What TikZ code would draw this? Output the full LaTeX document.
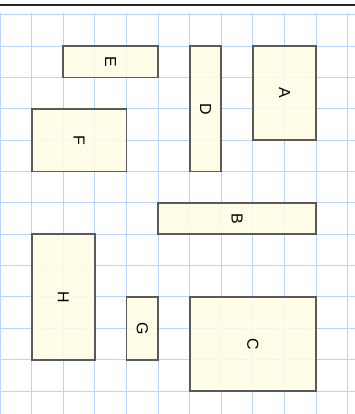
\documentclass[tikz,border=0pt]{standalone}
\usepackage{fontspec}
\setmainfont{Liberation Sans}
\definecolor{gridblue}{RGB}{184,212,248}
\definecolor{cream}{RGB}{255,253,228}
\definecolor{boxline}{RGB}{90,90,90}

\begin{document}
\begin{tikzpicture}[
  x=31.62bp, y=-31.36bp,
  font=\fontsize{16}{19}\selectfont,
  gridline/.style={draw=gridblue, line width=1bp},
  box/.style 2 args={draw=boxline, line width=1.8bp, fill=cream,
    fill opacity=0.88, text opacity=1, inner sep=0pt,
    minimum width=#1*31.62bp, minimum height=#2*31.36bp}
]
% page frame: the rule at the top sits just above the grid
\useasboundingbox (0,-0.469) rectangle (11.227,12.733);
\draw[line width=2bp, black!85] (0,-0.31) -- (11.227,-0.31);

% grid, one cell per unit
\foreach \i in {0,...,11}
  \draw[gridline] (\i,-0.05) -- (\i,12.733);
\foreach \j in {0,...,12}
  \draw[gridline] (0,\j) -- (11.227,\j);

% blocks, placed by cell centre; the letters are turned a quarter clockwise
\node[box={2}{3}] (A) at (9,2.5)   {\rotatebox{-90}{A}};
\node[box={5}{1}] (B) at (7.5,6.5) {\rotatebox{-90}{B}};
\node[box={4}{3}] (C) at (8,10.5)  {\rotatebox{-90}{C}};
\node[box={1}{4}] (D) at (6.5,3)   {\rotatebox{-90}{D}};
\node[box={3}{1}] (E) at (3.5,1.5) {\rotatebox{-90}{E}};
\node[box={3}{2}] (F) at (2.5,4)   {\rotatebox{-90}{F}};
\node[box={1}{2}] (G) at (4.5,10)  {\rotatebox{-90}{G}};
\node[box={2}{4}] (H) at (2,9)     {\rotatebox{-90}{H}};
\end{tikzpicture}
\end{document}
